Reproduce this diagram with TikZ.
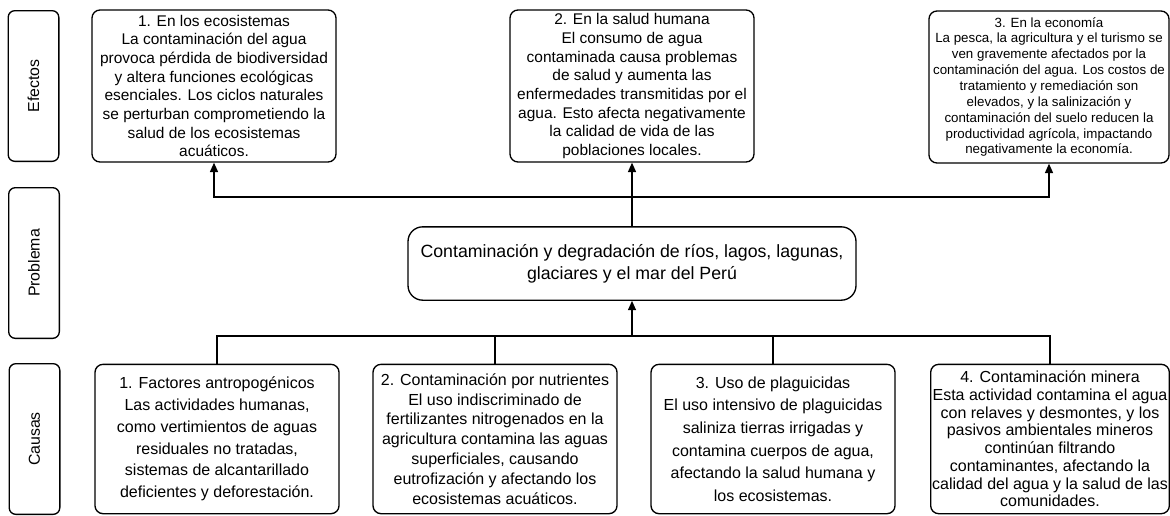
\documentclass[tikz,border=0pt]{standalone}
\usepackage{fontspec}
\setmainfont{Liberation Sans}
\usepackage{xcolor}
\usetikzlibrary{arrows.meta}

\begin{document}
\begin{tikzpicture}[
  x=0.75pt, y=-0.75pt,
  line width=1pt,
  every node/.style={
    align=center,
    draw=black,
    line width=1pt,
    inner xsep=1pt,
    inner ysep=2pt
  },
  side/.style={
    rotate=90,
    rounded corners=5pt,
    minimum width=113pt,
    minimum height=38pt,
    font=\fontsize{11.9}{14}\selectfont
  },
  effect/.style={
    rounded corners=6pt,
    minimum width=183pt,
    minimum height=114pt,
    font=\fontsize{11.6}{14}\selectfont
  },
  cause/.style={
    rounded corners=6pt,
    minimum width=183pt,
    minimum height=112pt,
    font=\fontsize{12}{#1}\selectfont
  },
  cause/.default=15,
  problem/.style={
    rounded corners=11pt,
    minimum width=336pt,
    minimum height=55pt,
    font=\fontsize{13.3}{16.5}\selectfont
  },
  arr/.style={
    -{Triangle[length=7pt,width=6pt]},
    line width=1pt
  }
]
\useasboundingbox (0,0) rectangle (1170,515);

% Left column: row titles
\node[side] (efectos) at (33.5,86) {Efectos};
\node[side] (problema) at (34,263) {Problema};
\node[side] (causas) at (34.5,439) {Causas};

% Row 1: effects
\node[effect] (eff1) at (214,86)
  {1. En los ecosistemas\\La contaminación del agua\\provoca pérdida de biodiversidad\\
   y altera funciones ecológicas\\esenciales. Los ciclos naturales\\
   se perturban comprometiendo la\\salud de los ecosistemas\\acuáticos.};
\node[effect] (eff2) at (632,86)
  {2. En la salud humana\\El consumo de agua\\contaminada causa problemas\\
   de salud y aumenta las\\enfermedades transmitidas por el\\
   agua. Esto afecta negativamente\\la calidad de vida de las\\poblaciones locales.};
\node[effect, minimum width=180pt, font=\fontsize{10}{11.9}\selectfont] (eff3) at (1049,87)
  {3. En la economía\\La pesca, la agricultura y el turismo se\\ven gravemente afectados por la\\
   contaminación del agua. Los costos de\\tratamiento y remediación son\\
   elevados, y la salinización y\\contaminación del suelo reducen la\\
   productividad agrícola, impactando\\negativamente la economía.};

% Row 2: problem
\node[problem] (prob) at (632,263.5)
  {Contaminación y degradación de ríos, lagos, lagunas,\\glaciares y el mar del Perú};

% Row 3: causes
\node[cause=16.3] (cau1) at (217,439)
  {1. Factores antropogénicos\\Las actividades humanas,\\como vertimientos de aguas\\
   residuales no tratadas,\\sistemas de alcantarillado\\deficientes y deforestación.};
\node[cause=14.9] (cau2) at (495,439)
  {2. Contaminación por nutrientes\\El uso indiscriminado de\\fertilizantes nitrogenados en la\\
   agricultura contamina las aguas\\superficiales, causando\\
   eutrofización y afectando los\\ecosistemas acuáticos.};
\node[cause=17] (cau3) at (773,439)
  {3. Uso de plaguicidas\\El uso intensivo de plaguicidas\\saliniza tierras irrigadas y\\
   contamina cuerpos de agua,\\afectando la salud humana y\\los ecosistemas.};
\node[cause=13.3, minimum width=179pt] (cau4) at (1050,439)
  {4. Contaminación minera\\Esta actividad contamina el agua\\con relaves y desmontes, y los\\
   pasivos ambientales mineros\\continúan filtrando\\contaminantes, afectando la\\
   calidad del agua y la salud de las\\comunidades.};

% Connectors
\coordinate (ejeE) at (0,197);
\coordinate (ejeC) at (0,336);
\draw[arr] (prob.north) -- (eff2.south);
\draw[arr] (prob.north |- ejeE) -| (eff1.south);
\draw[arr] (prob.north |- ejeE) -| (eff3.south);
\draw[arr] (prob.south |- ejeC) -- (prob.south);
\foreach \c in {cau1,cau2,cau3,cau4}
  \draw (prob.south |- ejeC) -| (\c.north);

\end{tikzpicture}
\end{document}
